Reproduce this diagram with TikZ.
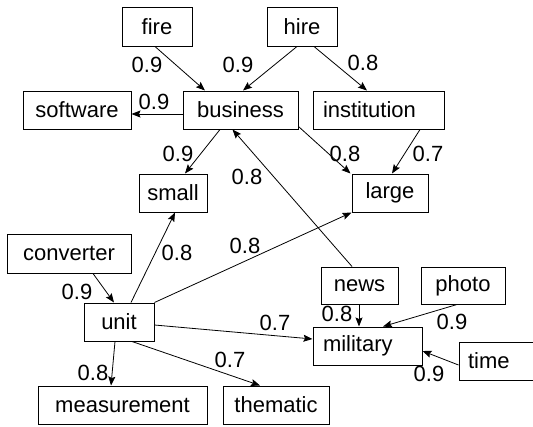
\documentclass[tikz,border=0pt]{standalone}
\usepackage{fontspec}
\setmainfont{Liberation Sans}
\usetikzlibrary{arrows.meta}
\begin{document}
\begin{tikzpicture}[x=1pt,y=-1pt,
  box/.style={draw,line width=1pt,rectangle,inner sep=0pt,minimum height=38pt,font=\fontsize{22}{24}\selectfont},
  lbl/.style={font=\fontsize{22}{24}\selectfont,inner sep=0pt},
  edge/.style={line width=0.8pt,-{Stealth[length=9pt,width=7pt,inset=1.5pt]}}]
\useasboundingbox[fill=white] (0,0) rectangle (533,426);
% nodes
\node[box,minimum width=70pt,minimum height=39pt] (fire) at (157,26.5) {fire};
\node[box,minimum width=70pt,minimum height=39pt] (hire) at (302,26.5) {hire};
\node[box,minimum width=108pt] (software) at (77,110) {software};
\node[box,minimum width=115pt] (business) at (240.5,110) {business};
\node[box,minimum height=38pt,text width=111pt,inner xsep=10pt,align=left] (institution) at (378.5,110) {institution};
\node[box,minimum width=68pt] (small) at (173,193) {small};
\node[box,minimum width=76pt] (large) at (390,193) {large};
\node[box,minimum width=124pt,minimum height=39pt] (converter) at (69,253.5) {converter};
\node[box,minimum width=70pt] (unit) at (119,322) {unit};
\node[box,minimum width=169pt] (measurement) at (122.5,405) {measurement};
\node[box,minimum width=106pt] (thematic) at (276,405) {thematic};
\node[box,minimum width=77pt,minimum height=37pt] (news) at (359.5,285.5) {news};
\node[box,minimum width=84pt,minimum height=37pt] (photo) at (463,285.5) {photo};
\node[box,text width=89pt,inner xsep=10pt,align=left] (military) at (367.5,346) {military};
\node[box,text width=62pt,inner xsep=9pt,align=left] (time) at (499,361) {time};
% edges
\draw[edge] ([xshift=-2pt]fire.south) -- ([xshift=-35.5pt]business.north);
\draw[edge] ([xshift=-5pt]hire.south) -- ([xshift=2.5pt]business.north);
\draw[edge] ([xshift=12pt]hire.south) -- ([xshift=-11.5pt]institution.north);
\draw[edge] ([yshift=-4pt]business.west) -- ([yshift=-4pt]software.east);
\draw[edge] ([xshift=-20.5pt]business.south) -- ([xshift=12pt]small.north);
\draw[edge] ([yshift=3pt]business.south east) -- ([xshift=-1pt]large.north west);
\draw[edge] ([xshift=41.5pt]institution.south) -- ([xshift=2pt]large.north);
\draw[edge] ([xshift=-7.5pt]news.north) -- ([xshift=-8pt]business.south);
\draw[edge] ([xshift=12pt]unit.north) -- ([xshift=2pt]small.south);
\draw[edge] (unit.north east) -- (large.south west);
\draw[edge] ([xshift=24pt]converter.south) -- ([xshift=-5pt]unit.north);
\draw[edge] ([yshift=-3pt]unit.east) -- ([yshift=7pt]military.west);
\draw[edge] ([xshift=-4pt]unit.south) -- ([xshift=-11.5pt]measurement.north);
\draw[edge] ([xshift=13pt]unit.south) -- ([xshift=-16pt]thematic.north);
\draw[edge] ([xshift=-0.5pt]news.south) -- ([xshift=-8.5pt]military.north);
\draw[edge] ([xshift=-6pt]photo.south) -- ([xshift=15.5pt]military.north);
\draw[edge] ([yshift=-4pt]time.west) -- ([yshift=-5pt]military.east);
% labels
\node[lbl] (l1) at (147,65) {0.9};
\node[lbl] (l2) at (238,65) {0.9};
\node[lbl] (l3) at (363,63) {0.8};
\node[lbl] (l4) at (154,102) {0.9};
\node[lbl] (l5) at (178,154) {0.9};
\node[lbl] (l6) at (247,177) {0.8};
\node[lbl] (l7) at (345,154) {0.8};
\node[lbl] (l8) at (428,154) {0.7};
\node[lbl] (l9) at (77,292) {0.9};
\node[lbl] (l10) at (177,253) {0.8};
\node[lbl] (l11) at (245,246) {0.8};
\node[lbl] (l12) at (275,323) {0.7};
\node[lbl] (l13) at (93,373) {0.8};
\node[lbl] (l14) at (230,360) {0.7};
\node[lbl] (l15) at (337,314) {0.8};
\node[lbl] (l16) at (452,322) {0.9};
\node[lbl] (l17) at (429,374) {0.9};
\end{tikzpicture}
\end{document}
